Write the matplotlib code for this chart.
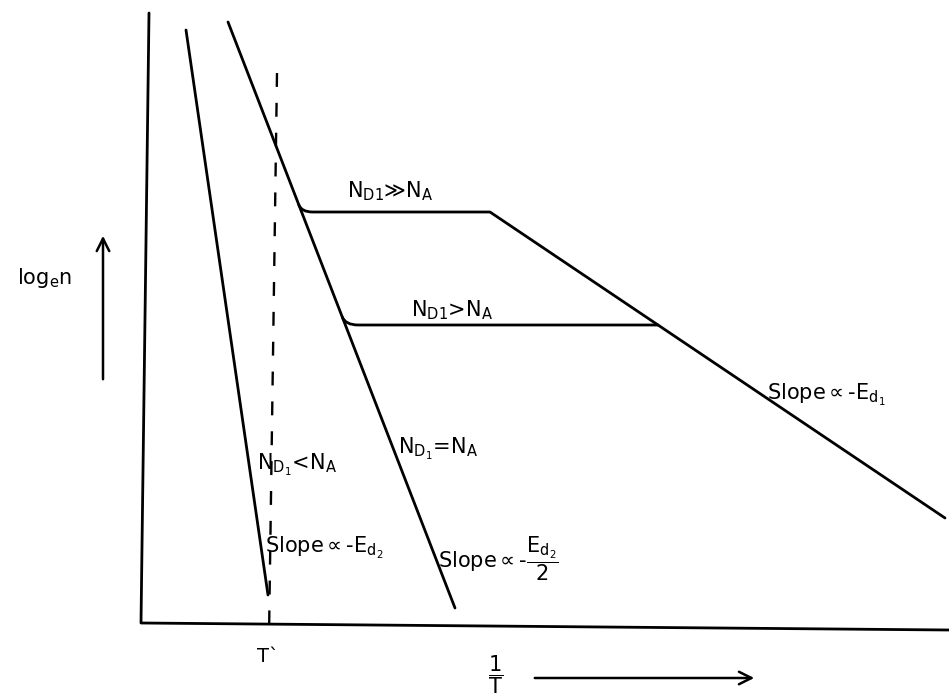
import numpy as np
import matplotlib
matplotlib.use("Agg")
import matplotlib.pyplot as plt
from matplotlib.path import Path
from matplotlib.patches import PathPatch

plt.rcParams['font.family'] = ['DejaVu Sans']
plt.rcParams['mathtext.fontset'] = 'dejavusans'
plt.rcParams['lines.scale_dashes'] = False

# Schematic coordinates: x ~ 1/T, y ~ log_e n (arbitrary units)
# Intrinsic-like branch (N_D1 < N_A): slope ∝ -E_d2
steep_x = [4.5, 12.7]
steep_y = [59.3, 2.8]
# Compensated branch (N_D1 = N_A): slope ∝ -E_d2/2
main_x = [8.7, 31.4]
main_y = [60.1, 1.5]
# Freeze-out branch: slope ∝ -E_d1
freeze_x = [34.9, 80.4]
freeze_y = [41.1, 10.5]
# Saturation plateaus
plateau_high = 41.1   # N_D1 >> N_A
plateau_low = 29.8    # N_D1 > N_A
# Reference temperature T`
t_mark_x = [13.6, 12.8]
t_mark_y = [55.0, -1.4]

LW = 2.0
INK = 'black'

fig = plt.figure(figsize=(9.49, 7.0), dpi=100)
ax = fig.add_axes([0, 0, 1, 1])
ax.set_xlim(-14.1, 80.8)
ax.set_ylim(-7.7, 62.3)
ax.axis('off')

# Axes drawn by hand
ax.plot([0.8, 0.0, 80.8], [61.0, 0.0, -0.7], color=INK, lw=LW,
        solid_joinstyle='round', solid_capstyle='round')

# Straight branches
ax.plot(steep_x, steep_y, color=INK, lw=LW, solid_capstyle='round')
ax.plot(main_x, main_y, color=INK, lw=LW, solid_capstyle='round')


def x_on_main(y):
    return np.interp(y, main_y[::-1], main_x[::-1])


def x_on_freeze(y):
    return np.interp(y, freeze_y[::-1], freeze_x[::-1])


def plateau_path(level, rise, run, end_pts):
    xc = x_on_main(level)
    verts = [(x_on_main(level + rise), level + rise), (xc, level),
             (xc + run, level)] + end_pts
    codes = [Path.MOVETO, Path.CURVE3, Path.CURVE3] + [Path.LINETO] * len(end_pts)
    return Path(verts, codes)


hi = plateau_path(plateau_high, 0.7, 1.1,
                  [(freeze_x[0], freeze_y[0]), (freeze_x[1], freeze_y[1])])
lo = plateau_path(plateau_low, 0.8, 1.3,
                  [(x_on_freeze(plateau_low), plateau_low)])
for p in (hi, lo):
    ax.add_patch(PathPatch(p, fill=False, edgecolor=INK, lw=LW,
                           capstyle='round', joinstyle='round'))

# Dashed marker at T`
ax.plot(t_mark_x, t_mark_y, color=INK, lw=1.7, dashes=(10, 11.5))
ax.text(12.7, -3.3, "T`", ha='center', va='center', fontsize=14)

# Direction arrows
arrow = dict(arrowstyle='->,head_length=0.9,head_width=0.45', color=INK, lw=1.8)
ax.annotate('', xy=(-3.8, 39.0), xytext=(-3.8, 24.1), arrowprops=arrow)
ax.annotate('', xy=(61.6, -5.5), xytext=(39.1, -5.5), arrowprops=arrow)

# Axis labels
ax.text(-9.7, 34.5, r"log$_{\mathregular{e}}$n", ha='center', va='center', fontsize=15)
ax.text(35.5, -5.2, r"$\dfrac{\mathregular{1}}{\mathregular{T}}$", ha='center', va='center',
        fontsize=15)

# Curve annotations
fs = 15
ax.text(24.9, 43.2, r"N$_{\mathregular{D1}}$≫N$_{\mathregular{A}}$", ha='center', va='center', fontsize=fs)
ax.text(31.1, 31.3, r"N$_{\mathregular{D1}}$>N$_{\mathregular{A}}$", ha='center', va='center', fontsize=fs)
ax.text(15.6, 15.8, r"N$_{\mathregular{D}_1}$<N$_{\mathregular{A}}$", ha='center', va='center', fontsize=fs)
ax.text(29.7, 17.4, r"N$_{\mathregular{D}_1}$=N$_{\mathregular{A}}$", ha='center', va='center', fontsize=fs)
ax.text(12.4, 7.5, r"Slope$\propto$-E$_{\mathregular{d}_2}$", ha='left', va='center', fontsize=fs)
ax.text(29.7, 6.4, r"Slope$\propto$-$\dfrac{\mathregular{E}_{\mathregular{d}_2}}{2}$",
        ha='left', va='center', fontsize=fs)
ax.text(62.6, 22.8, r"Slope$\propto$-E$_{\mathregular{d}_1}$", ha='left', va='center', fontsize=fs)

fig.savefig("out.png", dpi=100)
